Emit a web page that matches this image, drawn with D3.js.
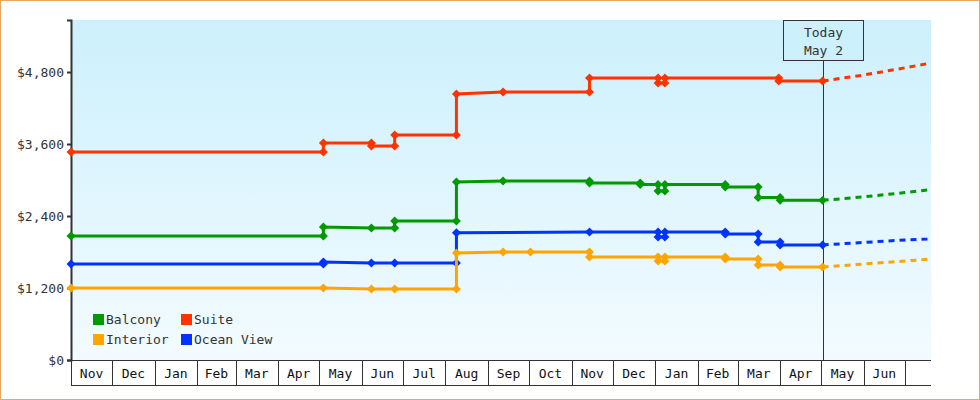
<!DOCTYPE html><html><head><meta charset="utf-8">
<script src="https://cdn.jsdelivr.net/npm/d3@7"></script>
<style>body{margin:0;background:#fff}svg{display:block;font-family:"DejaVu Sans Mono",monospace}</style>
</head><body><svg id="c" width="980" height="400"></svg>
<script>
const seriesNames=["Balcony","Suite","Interior","Ocean View"];
const seriesColors=["#009900","#ff3300","#ffa500","#0033ff"];
const suite=[["2022-11-01",3467],["2023-05-04",3467],["2023-05-04",3617],["2023-06-08",3617],["2023-06-08",3567],["2023-06-25",3567],["2023-06-25",3750],["2023-08-09",3750],["2023-08-09",4433],["2023-09-12",4467],["2023-11-14",4467],["2023-11-14",4700],["2024-01-03",4700],["2024-01-03",4617],["2024-01-08",4617],["2024-01-08",4700],["2024-03-31",4700],["2024-03-31",4650],["2024-05-02",4650]];
const balcony=[["2022-11-01",2067],["2023-05-04",2067],["2023-05-04",2217],["2023-06-08",2200],["2023-06-25",2200],["2023-06-25",2317],["2023-08-09",2317],["2023-08-09",2967],["2023-09-12",2983],["2023-11-14",2983],["2023-11-14",2950],["2023-12-21",2950],["2023-12-21",2925],["2024-01-03",2925],["2024-01-03",2817],["2024-01-08",2817],["2024-01-08",2925],["2024-02-21",2925],["2024-02-21",2883],["2024-03-16",2883],["2024-03-16",2708],["2024-04-01",2708],["2024-04-01",2661],["2024-05-02",2661]];
const oceanView=[["2022-11-01",1600],["2023-05-04",1600],["2023-05-04",1633],["2023-06-08",1617],["2023-06-25",1617],["2023-08-09",1617],["2023-08-09",2122],["2023-11-14",2133],["2024-01-03",2133],["2024-01-03",2050],["2024-01-08",2050],["2024-01-08",2133],["2024-02-21",2133],["2024-02-21",2100],["2024-03-16",2100],["2024-03-16",1967],["2024-04-01",1967],["2024-04-01",1917],["2024-05-02",1917]];
const interior=[["2022-11-01",1200],["2023-05-04",1200],["2023-06-08",1183],["2023-06-25",1183],["2023-08-09",1183],["2023-08-09",1783],["2023-09-12",1800],["2023-10-02",1800],["2023-11-14",1800],["2023-11-14",1717],["2024-01-03",1717],["2024-01-03",1650],["2024-01-08",1650],["2024-01-08",1717],["2024-02-21",1717],["2024-02-21",1683],["2024-03-16",1683],["2024-03-16",1583],["2024-04-01",1583],["2024-04-01",1550],["2024-05-02",1550]];
const forecastDates=["2024-05-02","2024-06-01","2024-07-01","2024-07-20"];
const forecastBalcony=[2661,2720,2790,2842];
const forecastSuite=[4650,4750,4870,4950];
const forecastInterior=[1550,1600,1650,1683];
const forecastOcean=[1917,1960,2000,2017];
const yTicks=[0,1200,2400,3600,4800];
const monthLabels=["Nov","Dec","Jan","Feb","Mar","Apr","May","Jun","Jul","Aug","Sep","Oct","Nov","Dec","Jan","Feb","Mar","Apr","May","Jun"];
const todayDate="2024-05-02", todayLabel=["Today","May 2"];

const P=d3.timeParse("%Y-%m-%d");
const svg=d3.select("#c");
const L=71,R=931,T=20,B=360;
const x=d3.scaleTime().domain([P("2022-11-01"),P("2024-07-20")]).range([L,R]);
const y=d3.scaleLinear().domain([0,5667]).range([B,T]);
svg.append("rect").attr("x",0.5).attr("y",0.5).attr("width",979).attr("height",399).attr("fill","#fff").attr("stroke","#e8a860");
const g=svg.append("defs").append("linearGradient").attr("id","bg").attr("x1",0).attr("x2",0).attr("y1",0).attr("y2",1);
g.append("stop").attr("offset",0).attr("stop-color","#ccf0fc");
g.append("stop").attr("offset",1).attr("stop-color","#f3fbff");
svg.append("rect").attr("x",L).attr("y",T).attr("width",R-L).attr("height",B-T).attr("fill","url(#bg)");
const ya=svg.append("g").attr("transform",`translate(${L},0)`).call(d3.axisLeft(y).tickValues(yTicks).tickSize(4).tickFormat(d=>"$"+d3.format(",")(d)));
ya.select(".domain").attr("stroke","#333").attr("stroke-width",2);
ya.selectAll("text").attr("font-size",13).attr("fill","#333").attr("font-family","DejaVu Sans Mono");
ya.selectAll("line").attr("stroke","#333").attr("stroke-width",2);
const months=d3.timeMonth.range(P("2022-11-01"),P("2024-07-01"));
const xa=svg.append("g");
xa.append("line").attr("x1",L).attr("x2",R).attr("y1",B+0.5).attr("y2",B+0.5).attr("stroke","#333");
xa.append("line").attr("x1",L).attr("x2",R).attr("y1",385.5).attr("y2",385.5).attr("stroke","#333");
months.concat([P("2024-07-01")]).forEach(m=>{xa.append("line").attr("x1",Math.round(x(m))+0.5).attr("x2",Math.round(x(m))+0.5).attr("y1",B).attr("y2",385).attr("stroke","#333");});
months.forEach((m,i)=>{const n=d3.timeMonth.offset(m,1);xa.append("text").attr("x",(x(m)+x(n))/2).attr("y",378).attr("text-anchor","middle").attr("font-size",13).attr("fill","#111").text(monthLabels[i]);});
const tx=Math.round(x(P(todayDate)))+0.5;
svg.append("line").attr("x1",tx).attr("x2",tx).attr("y1",60).attr("y2",B).attr("stroke","#333");
svg.append("rect").attr("x",tx-40).attr("y",20.5).attr("width",80).attr("height",40).attr("fill","#ccf0fc").attr("stroke","#333");
todayLabel.forEach((t,i)=>svg.append("text").attr("x",tx).attr("y",37+i*18).attr("text-anchor","middle").attr("font-size",13).attr("fill","#333").text(t));
const data=[[balcony,forecastBalcony],[suite,forecastSuite],[interior,forecastInterior],[oceanView,forecastOcean]];
const line=d3.line().x(d=>x(P(d[0]))).y(d=>y(d[1]));
const order=[1,0,3,2];
order.forEach(i=>{
  const [pts,fc]=data[i],c=seriesColors[i];
  svg.append("path").attr("d",line(forecastDates.map((d,k)=>[d,fc[k]]))).attr("fill","none").attr("stroke",c).attr("stroke-width",3).attr("stroke-dasharray","6,5");
  svg.append("path").attr("d",line(pts)).attr("fill","none").attr("stroke",c).attr("stroke-width",3);
  svg.selectAll(null).data(pts).enter().append("path").attr("d",d3.symbol(d3.symbolSquare,40)()).attr("transform",d=>`translate(${x(P(d[0]))},${y(d[1])}) rotate(45)`).attr("fill",c);
});
const lp=[[93,314],[181,314],[93,334],[181,334]];
seriesNames.forEach((n,i)=>{svg.append("rect").attr("x",lp[i][0]).attr("y",lp[i][1]).attr("width",11).attr("height",11).attr("fill",seriesColors[i]);
svg.append("text").attr("x",lp[i][0]+13).attr("y",lp[i][1]+10).attr("font-size",13).attr("fill","#333").text(n);});
</script></body></html>
